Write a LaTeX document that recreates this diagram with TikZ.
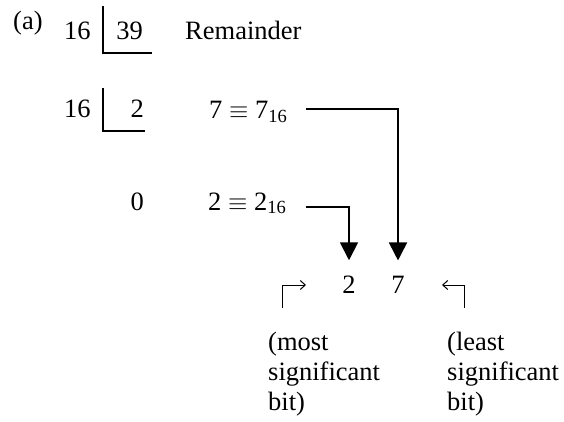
\documentclass[tikz,border=0pt]{standalone}
\usepackage{fontspec}
\setmainfont{Liberation Serif}
\usetikzlibrary{arrows.meta,positioning}

\begin{document}
\begin{tikzpicture}[x=1pt,y=-1pt,>=Latex,
  txt/.style={inner sep=0pt,font=\fontsize{26.5}{30}\selectfont},
  divbar/.style={line width=1.6pt},
  bigarrow/.style={line width=1.8pt,-{Triangle[width=18pt,length=18pt]}},
  hookarrow/.style={line width=1pt,-{Straight Barb[length=5pt,width=9pt]}}]
\useasboundingbox (0,0) rectangle (564,422);
\node[txt,anchor=base west] (lbl) at (13,30) {(a)};
% division steps
\node[txt,anchor=base west] (div1) at (64,40) {16};
\node[txt,anchor=base east] (num1) at (143,40) {39};
\node[txt,anchor=base west] (remhead) at (185,40) {Remainder};
\draw[divbar] (103,6) |- (152,53);
\node[txt,anchor=base west] (div2) at (64,118) {16};
\node[txt,anchor=base east] (num2) at (144,118) {2};
\draw[divbar] (103,88) |- (145,131);
\node[txt,anchor=base west] (rem7) at (209,119) {7 $\equiv$ 7\textsubscript{16}};
\node[txt,anchor=base east] (num3) at (144,210) {0};
\node[txt,anchor=base west] (rem2) at (208,210) {2 $\equiv$ 2\textsubscript{16}};
% result digits
\node[txt,anchor=base] (d2) at (349,293) {2};
\node[txt,anchor=base] (d7) at (398,293) {7};
\coordinate (s7) at (306,109);
\coordinate (s2) at (306,207);
\draw[bigarrow] (s7) -| ([yshift=15pt]d7.north);
\draw[bigarrow] (s2) -| ([yshift=15pt]d2.north);
% significance notes
\coordinate (msb) at (282,308);
\coordinate (lsb) at (464,308);
\draw[hookarrow] (msb) |- (306,285);
\draw[hookarrow] (lsb) |- (442,285);
\node[txt,anchor=base west,align=left] (msbtext) at (268,410) {(most\\significant\\bit)};
\node[txt,anchor=base west,align=left] (lsbtext) at (447,410) {(least\\significant\\bit)};
\end{tikzpicture}
\end{document}
